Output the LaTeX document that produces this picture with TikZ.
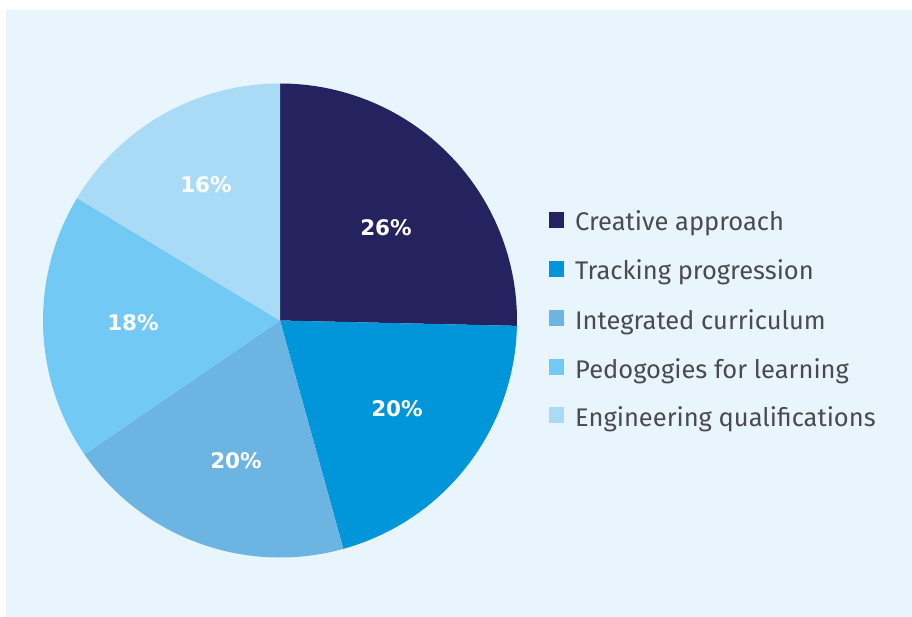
\documentclass[tikz,border=0pt]{standalone}
\usepackage{fontspec}
\setmainfont{Fira Sans}
\newfontfamily\legfont{Fira Sans}
\newfontfamily\pctfont{DejaVu Sans}
\definecolor{bgc}{HTML}{E8F5FD}
\definecolor{cA}{HTML}{24235F}
\definecolor{cB}{HTML}{0096D9}
\definecolor{cC}{HTML}{6CB5E3}
\definecolor{cD}{HTML}{72C9F3}
\definecolor{cE}{HTML}{A9DBF7}
\definecolor{txt}{HTML}{4A4A4F}
\begin{document}
\begin{tikzpicture}[x=1pt,y=-1pt,
  pct/.style={text=white,font=\pctfont\fontsize{21.5}{22}\selectfont\bfseries,anchor=center,inner sep=0pt},
  legtxt/.style={text=txt,font=\legfont\fontsize{25.5}{26}\selectfont,anchor=base west,inner sep=0pt},
  legbox/.style={minimum size=15.5pt,inner sep=0pt,anchor=center}]
\useasboundingbox (0,0) rectangle (912,617);
\fill[white] (0,0) rectangle (912,617);
\fill[bgc] (6,10) rectangle (912,617);
\coordinate (c) at (280,320.5);
\def\R{237}
\fill[cA] (c) -- ++(-90:\R) arc[start angle=-90,end angle=1.3,radius=\R] -- cycle;
\fill[cB] (c) -- ++(1.3:\R) arc[start angle=1.3,end angle=74.5,radius=\R] -- cycle;
\fill[cC] (c) -- ++(74.5:\R) arc[start angle=74.5,end angle=145.6,radius=\R] -- cycle;
\fill[cD] (c) -- ++(145.6:\R) arc[start angle=145.6,end angle=211.1,radius=\R] -- cycle;
\fill[cE] (c) -- ++(211.1:\R) arc[start angle=211.1,end angle=270,radius=\R] -- cycle;
\node[pct] (pA) at (386,228) {26\%};
\node[pct] (pB) at (397,409) {20\%};
\node[pct] (pC) at (236,461) {20\%};
\node[pct] (pD) at (133,323) {18\%};
\node[pct] (pE) at (206,185) {16\%};
\node[legbox,fill=cA] (bA) at (556.5,220) {};
\node[legbox,fill=cB] (bB) at (556.5,269) {};
\node[legbox,fill=cC] (bC) at (556.5,318) {};
\node[legbox,fill=cD] (bD) at (556.5,367) {};
\node[legbox,fill=cE] (bE) at (556.5,415) {};
\node[legtxt] (tA) at (575,231) {Creative approach};
\node[legtxt] (tB) at (575,280) {Tracking progression};
\node[legtxt] (tC) at (575,329) {Integrated curriculum};
\node[legtxt] (tD) at (575,378) {Pedogogies for learning};
\node[legtxt] (tE) at (575,426) {Engineering qualifications};
\end{tikzpicture}
\end{document}
